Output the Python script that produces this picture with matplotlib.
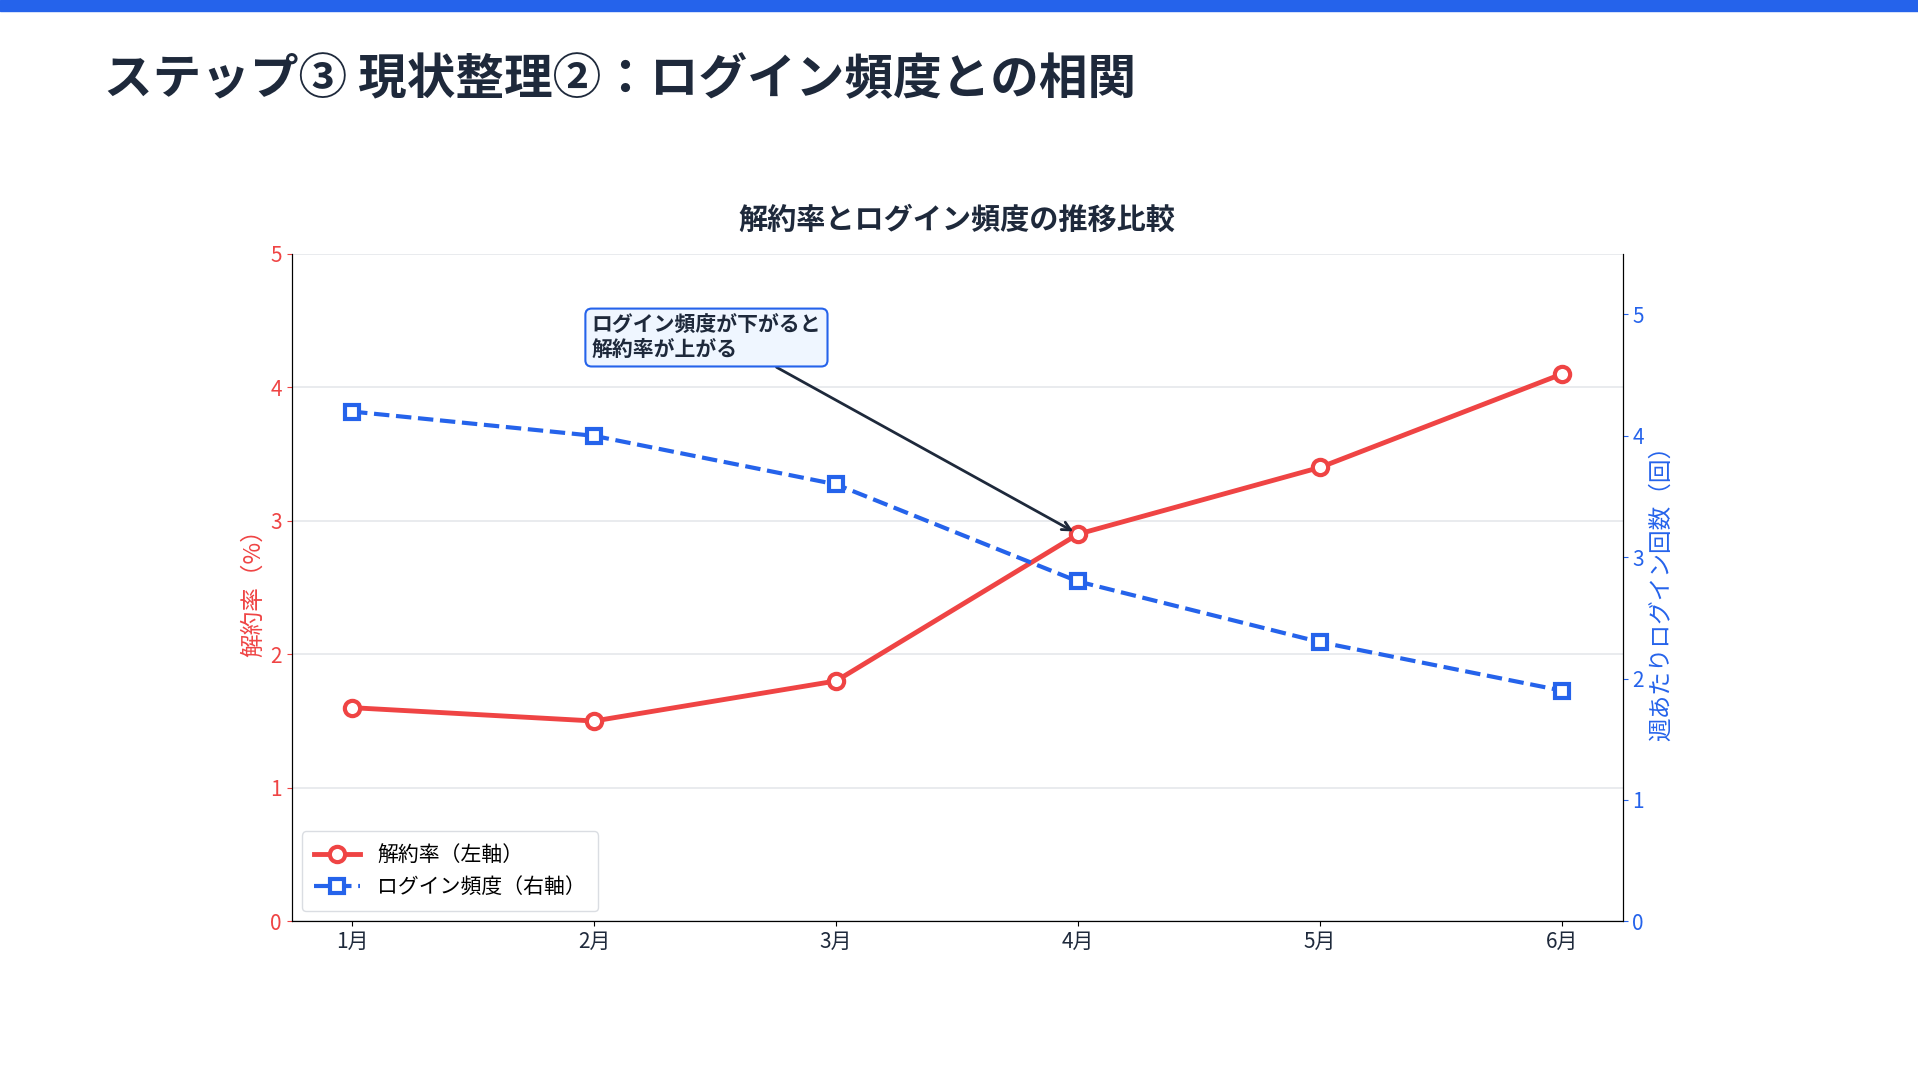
import matplotlib
matplotlib.use("Agg")
import matplotlib.pyplot as plt

plt.rcParams['font.family'] = ['Noto Sans CJK JP', 'DejaVu Sans']

months = ["1月", "2月", "3月", "4月", "5月", "6月"]
churn = [1.6, 1.5, 1.8, 2.9, 3.4, 4.1]
logins = [4.2, 4.0, 3.6, 2.8, 2.3, 1.9]

RED = "#EF4444"
BLUE = "#2563EB"
NAVY = "#1E293B"

fig = plt.figure(figsize=(19.18, 10.8), dpi=100)
fig.patches.append(plt.Rectangle((0, 0.99), 1, 0.01, transform=fig.transFigure, color=BLUE))
fig.text(0.054, 0.926, "ステップ③ 現状整理②：ログイン頻度との相関", fontsize=35, fontweight='bold',
         color=NAVY, va='center', ha='left')

ax = fig.add_axes([0.152, 0.147, 0.694, 0.618])
ax2 = ax.twinx()
x = list(range(len(months)))
l1, = ax.plot(x, churn, color=RED, lw=3.5, marker='o', ms=11, mfc='white', mew=3, label="解約率（左軸）", zorder=3)
l2, = ax2.plot(x, logins, color=BLUE, lw=3, ls='--', marker='s', ms=10, mfc='white', mew=3, label="ログイン頻度（右軸）")
ax.set_ylim(0, 5)
ax2.set_ylim(0, 5.5)
ax.set_xlim(-0.25, 5.25)
ax.set_xticks(x)
ax.set_xticklabels(months, fontsize=15, color=NAVY)
ax.tick_params(axis='y', colors=RED, labelsize=15)
ax2.tick_params(axis='y', colors=BLUE, labelsize=15)
ax.grid(axis='y', color='#E5E7EB', lw=1.2)
ax.set_axisbelow(True)
for a in (ax, ax2):
    a.spines['top'].set_visible(False)
ax.set_ylabel("解約率（%）", color=RED, fontsize=17)
ax2.set_ylabel("週あたりログイン回数（回）", color=BLUE, fontsize=17)
ax.set_title("解約率とログイン頻度の推移比較", fontsize=21, fontweight='bold', color=NAVY, pad=18)

ax2.annotate("ログイン頻度が下がると\n解約率が上がる", xy=(3, 2.9 * 1.1), xytext=(0.99, 4.81),
             fontsize=15, fontweight='bold', color=NAVY, ha='left', va='center',
             bbox=dict(boxstyle='round,pad=0.3', fc='#EFF6FF', ec=BLUE, lw=1.5),
             arrowprops=dict(arrowstyle='->', color=NAVY, lw=2, relpos=(0.75, 0), shrinkA=0, shrinkB=4))

ax.legend(handles=[l1, l2], loc='lower left', fontsize=15, frameon=True, borderpad=0.6,
          handlelength=2.2).get_frame().set_edgecolor('#D1D5DB')

fig.savefig("out.png", dpi=100)
